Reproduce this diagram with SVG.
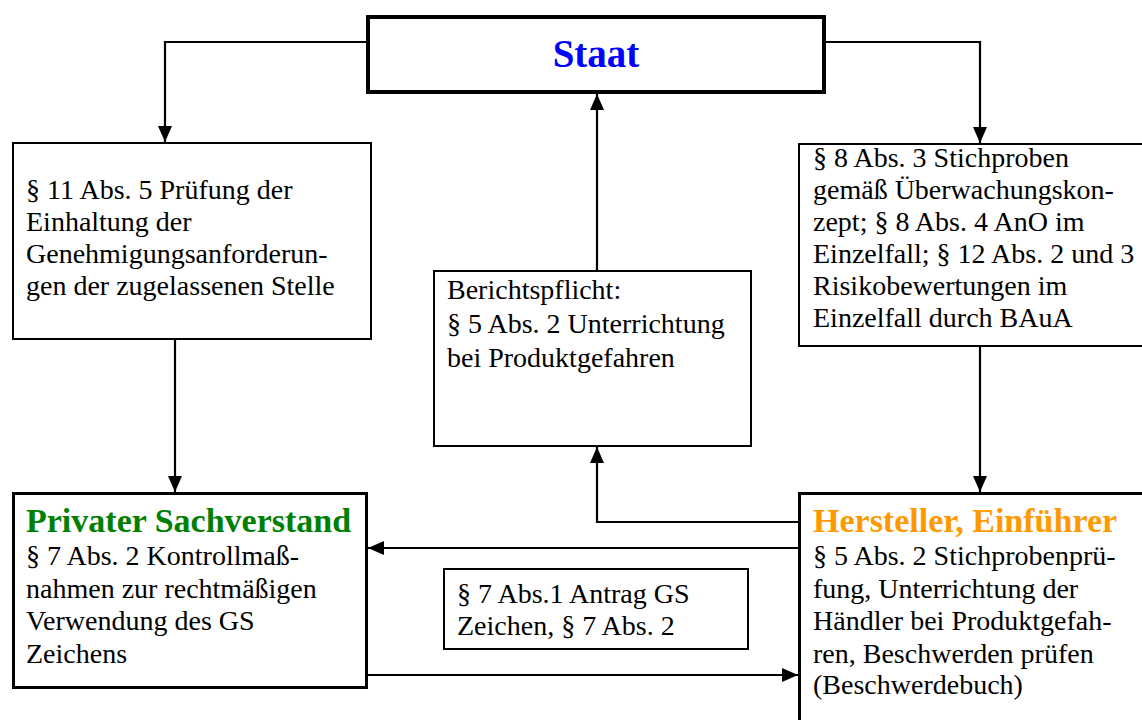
<svg xmlns="http://www.w3.org/2000/svg" width="1142" height="720" viewBox="0 0 1142 720">
  <style>
    .box { fill: #ffffff; stroke: #000000; }
    .thin { stroke-width: 2; }
    .thick { stroke-width: 3; }
    .heavy { stroke-width: 4; }
    .txt { font-family: "Liberation Serif", "Times New Roman", serif; font-size: 28px; fill: #000000; }
    .title { font-family: "Liberation Serif", "Times New Roman", serif; font-size: 34px; font-weight: bold; }
    .conn { fill: none; stroke: #000000; stroke-width: 2.2; marker-end: url(#arrow); }
  </style>
  <defs>
    <marker id="arrow" markerUnits="userSpaceOnUse" viewBox="0 0 16 14" refX="16" refY="7" markerWidth="16" markerHeight="14" orient="auto">
      <path d="M0,0 L16,7 L0,14 z" fill="#000000"/>
    </marker>
  </defs>

  <rect width="1142" height="720" fill="#ffffff"/>

  <!-- connectors -->
  <g id="connectors">
    <path class="conn" d="M366,42 H165 V142"/>
    <path class="conn" d="M826,42 H980 V143"/>
    <path class="conn" d="M175,340 V492"/>
    <path class="conn" d="M980,347 V492"/>
    <path class="conn" d="M597,270 V94"/>
    <path class="conn" d="M798,522 H597 V447"/>
    <path class="conn" d="M798,548 H368"/>
    <path class="conn" d="M368,675 H798"/>
  </g>

  <g id="staat">
    <rect class="box heavy" x="368" y="17" width="456" height="75"/>
    <text class="title" x="596" y="67" text-anchor="middle" fill="#0000ff" style="font-size:39px">Staat</text>
  </g>

  <g id="pruefung">
    <rect class="box thin" x="13" y="143" width="358" height="196"/>
    <text class="txt">
      <tspan x="26" y="199">§ 11 Abs. 5 Prüfung der</tspan>
      <tspan x="26" y="231">Einhaltung der</tspan>
      <tspan x="26" y="263">Genehmigungsanforderun-</tspan>
      <tspan x="26" y="295">gen der zugelassenen Stelle</tspan>
    </text>
  </g>

  <g id="stichproben">
    <rect class="box thin" x="799" y="144" width="360" height="202"/>
    <text class="txt">
      <tspan x="813" y="167">§ 8 Abs. 3 Stichproben</tspan>
      <tspan x="813" y="199">gemäß Überwachungskon-</tspan>
      <tspan x="813" y="231">zept; § 8 Abs. 4 AnO im</tspan>
      <tspan x="813" y="263">Einzelfall; § 12 Abs. 2 und 3</tspan>
      <tspan x="813" y="295">Risikobewertungen im</tspan>
      <tspan x="813" y="327">Einzelfall durch BAuA</tspan>
    </text>
  </g>

  <g id="berichtspflicht">
    <rect class="box thin" x="434" y="271" width="317" height="175"/>
    <text class="txt">
      <tspan x="447" y="299">Berichtspflicht:</tspan>
      <tspan x="447" y="333">§ 5 Abs. 2 Unterrichtung</tspan>
      <tspan x="447" y="367">bei Produktgefahren</tspan>
    </text>
  </g>

  <g id="privater-sachverstand">
    <rect class="box thick" x="13.5" y="493.5" width="353" height="194"/>
    <text class="title" x="26" y="532" fill="#008000">Privater Sachverstand</text>
    <text class="txt">
      <tspan x="26" y="565">§ 7 Abs. 2 Kontrollmaß-</tspan>
      <tspan x="26" y="598">nahmen zur rechtmäßigen</tspan>
      <tspan x="26" y="630">Verwendung des GS</tspan>
      <tspan x="26" y="663">Zeichens</tspan>
    </text>
  </g>

  <g id="hersteller">
    <rect class="box thick" x="799.5" y="493.5" width="400" height="300"/>
    <text class="title" x="813" y="532" fill="#ff9900">Hersteller, Einführer</text>
    <text class="txt">
      <tspan x="813" y="565">§ 5 Abs. 2 Stichprobenprü-</tspan>
      <tspan x="813" y="598">fung, Unterrichtung der</tspan>
      <tspan x="813" y="630">Händler bei Produktgefah-</tspan>
      <tspan x="813" y="663">ren, Beschwerden prüfen</tspan>
      <tspan x="813" y="694">(Beschwerdebuch)</tspan>
    </text>
  </g>

  <g id="antrag">
    <rect class="box thin" x="444" y="569" width="304" height="80"/>
    <text class="txt">
      <tspan x="457" y="603">§ 7 Abs.1 Antrag GS</tspan>
      <tspan x="457" y="635">Zeichen, § 7 Abs. 2</tspan>
    </text>
  </g>
</svg>
